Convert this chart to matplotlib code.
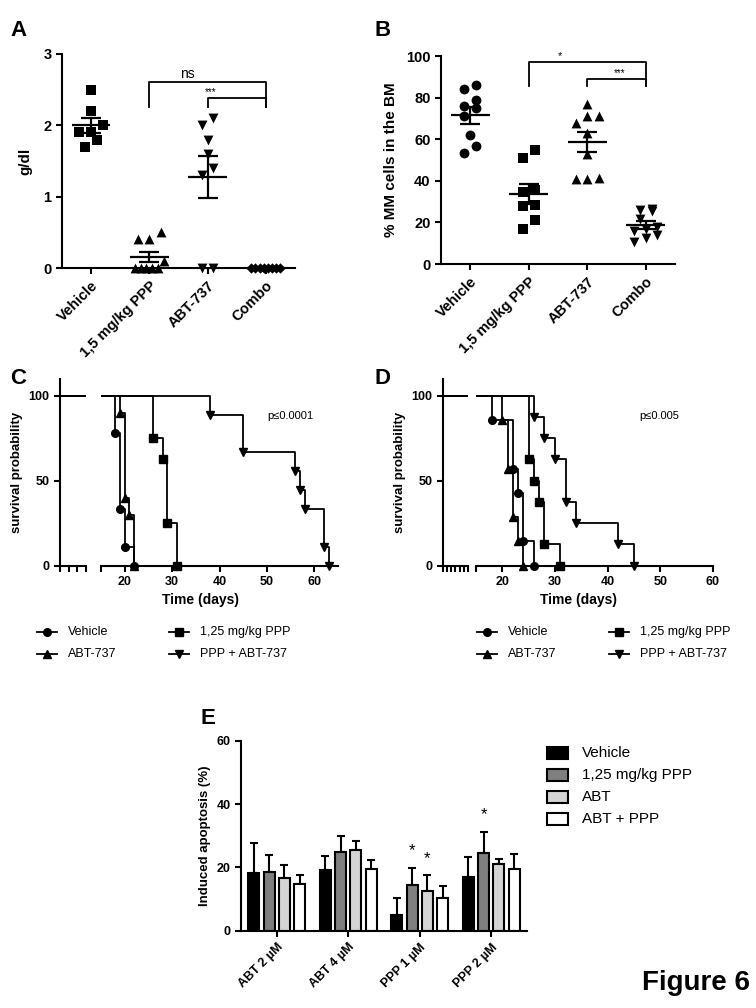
import matplotlib
matplotlib.use('Agg')
import matplotlib.pyplot as plt
import numpy as np
from matplotlib.lines import Line2D
from matplotlib.patches import Rectangle

plt.rcParams['font.family'] = ['Liberation Sans', 'DejaVu Sans']

# panel A - hemoglobin-like values (g/dl)
groups_ab = ['Vehicle', '1,5 mg/kg PPP', 'ABT-737', 'Combo']
hb_vehicle = [2.5, 2.2, 2.0, 1.9, 1.9, 1.8, 1.7]
hb_ppp = [0.5, 0.4, 0.4, 0.1, 0, 0, 0, 0, 0]
hb_abt = [2.1, 2.0, 1.8, 1.6, 1.4, 1.3, 0, 0]
hb_combo = [0, 0, 0, 0, 0, 0, 0, 0]

# panel B - % MM cells in BM
mm_vehicle = [86, 84, 79, 76, 75, 71, 62, 56.5, 53.5]
mm_ppp = [55, 51, 35.5, 34.5, 28.5, 28, 21, 17]
mm_abt = [77, 71, 71, 68, 63, 53, 41.5, 41, 41]
mm_combo = [26.5, 25.5, 26, 21.5, 18, 17, 16, 14, 12.5, 10.5]

# panel C - survival (event day, survival % after event)
c_vehicle_t = [18, 19, 20, 22]
c_vehicle_s = [77.8, 33.3, 11.1, 0]
c_abt_t = [19, 20, 21, 22]
c_abt_s = [90, 40, 30, 0]
c_ppp_t = [26, 28, 29, 31]
c_ppp_s = [75, 62.5, 25, 0]
c_combo_t = [38, 45, 56, 57, 58, 62, 63]
c_combo_s = [88.9, 66.7, 55.6, 44.4, 33.3, 11.1, 0]

# panel D
d_vehicle_t = [18, 22, 23, 24, 26]
d_vehicle_s = [85.7, 57.1, 42.9, 14.3, 0]
d_abt_t = [20, 21, 22, 23, 24]
d_abt_s = [85.7, 57.1, 28.6, 14.3, 0]
d_ppp_t = [25, 26, 27, 28, 31]
d_ppp_s = [62.5, 50, 37.5, 12.5, 0]
d_combo_t = [26, 28, 30, 32, 34, 42, 45]
d_combo_s = [87.5, 75, 62.5, 37.5, 25, 12.5, 0]

surv_names = ['Vehicle', '1,25 mg/kg PPP', 'ABT-737', 'PPP + ABT-737']

# panel E - induced apoptosis (%)
e_groups = ['ABT 2 µM', 'ABT 4 µM', 'PPP 1 µM', 'PPP 2 µM']
e_names = ['Vehicle', '1,25 mg/kg PPP', 'ABT', 'ABT + PPP']
e_vehicle = [18.1, 19.3, 4.9, 17.1]
e_vehicle_err = [9.7, 4.3, 5.5, 6.3]
e_ppp = [18.6, 24.8, 14.4, 24.4]
e_ppp_err = [5.2, 5.1, 5.5, 6.9]
e_abt = [16.5, 25.4, 12.5, 21.2]
e_abt_err = [4.4, 2.9, 5.0, 1.6]
e_combo = [14.6, 19.6, 10.4, 19.6]
e_combo_err = [3.0, 2.7, 3.7, 4.6]
e_stars = [(2, 1), (2, 2), (3, 1)]

W, H = 756, 1008
fig = plt.figure(figsize=(W / 100, H / 100), dpi=100)


def px_axes(l, t, r, b):
    return fig.add_axes([l / W, 1 - b / H, (r - l) / W, (b - t) / H])


def style(ax, size):
    for s in ['top', 'right']:
        ax.spines[s].set_visible(False)
    for s in ['left', 'bottom']:
        ax.spines[s].set_linewidth(1.5)
    ax.tick_params(width=1.5, length=4, labelsize=size)
    for lab in ax.get_xticklabels() + ax.get_yticklabels():
        lab.set_fontweight('bold')


def swarm(vals, px_unit, diam=9, step=0.2, max_spread=0.5):
    order = sorted(range(len(vals)), key=lambda i: vals[i])
    rows = []
    for i in order:
        if rows and (vals[i] - vals[rows[-1][0]]) * px_unit < diam:
            rows[-1].append(i)
        else:
            rows.append([i])
    offs = [0.0] * len(vals)
    for row in rows:
        n = len(row)
        s = step if n == 1 else min(step, max_spread / (n - 1))
        for k, i in enumerate(row):
            offs[i] = (k - (n - 1) / 2) * s
    return offs


def dot_panel(ax, data, markers, sizes, px_unit):
    for i, vals in enumerate(data):
        offs = swarm(vals, px_unit)
        ax.scatter(np.array(offs) + i, vals, marker=markers[i], s=sizes[i],
                   color='black', linewidths=0, clip_on=False, zorder=3)
        m = np.mean(vals)
        sem = np.std(vals, ddof=1) / np.sqrt(len(vals))
        ax.hlines(m, i - 0.33, i + 0.33, color='black', lw=1.6, zorder=4)
        ax.vlines(i, m - sem, m + sem, color='black', lw=1.6, zorder=4)
        ax.hlines([m - sem, m + sem], i - 0.17, i + 0.17, color='black', lw=1.6, zorder=4)
    ax.set_xlim(-0.5, 3.5)
    ax.set_xticks(range(4))
    ax.set_xticklabels(groups_ab, rotation=45, ha='right', rotation_mode='anchor')


def bracket(ax, x0, x1, ytop, ylow, txt, tx, ty, size):
    ax.plot([x0, x0, x1, x1], [ylow, ytop, ytop, ylow], color='black', lw=1.3, clip_on=False)
    ax.text(tx, ty, txt, ha='center', va='baseline', fontsize=size)


# ---- A
axA = px_axes(62, 54, 295, 268)
dot_panel(axA, [hb_vehicle, hb_ppp, hb_abt, hb_combo], ['s', '^', 'v', 'D'],
          [48, 50, 50, 28], 214 / 3)
axA.set_ylim(0, 3)
axA.set_yticks([0, 1, 2, 3])
axA.set_ylabel('g/dl', fontsize=11, fontweight='bold', labelpad=8)
style(axA, 10.5)
bracket(axA, 1, 3, 2.61, 2.26, 'ns', 1.65, 2.66, 10)
bracket(axA, 2, 3, 2.38, 2.26, '***', 2.05, 2.43, 7)

# ---- B
axB = px_axes(441, 56, 675, 264)
dot_panel(axB, [mm_vehicle, mm_ppp, mm_abt, mm_combo], ['o', 's', '^', 'v'],
          [50, 48, 50, 50], 208 / 100)
axB.set_ylim(0, 100)
axB.set_yticks([0, 20, 40, 60, 80, 100])
axB.set_ylabel('% MM cells in the BM', fontsize=11, fontweight='bold', labelpad=6)
style(axB, 10.5)
bracket(axB, 1, 3, 97.3, 85.6, '*', 1.53, 98.5, 8)
bracket(axB, 2, 3, 89, 85.6, '***', 2.56, 90.5, 7)


# ---- C / D survival
def km(ax, t, s, marker, marks):
    x = [0] + list(t)
    y = [100] + list(s)
    ax.step(x, y, where='post', color='black', lw=1.3)
    if marks:
        ax.plot(t, s, linestyle='none', marker=marker, color='black', ms=5.5, clip_on=False)


def surv_panel(l, lr, r, rr, right_max, left_ticks, series, ptxt):
    y0 = 565.7
    top = y0 - 110 * 1.7
    axl = px_axes(l, top, lr, y0)
    axr = px_axes(r, top, rr, y0)
    for tt, ss, mk in series:
        km(axl, tt, ss, mk, False)
        km(axr, tt, ss, mk, True)
    for ax in (axl, axr):
        ax.set_ylim(0, 110)
    axl.set_xlim(0, 15)
    axr.set_xlim(15, right_max)
    axl.set_yticks([0, 50, 100])
    axl.set_xticks(left_ticks)
    axl.set_xticklabels([])
    axr.set_xticks(range(20, 61, 10))
    axr.set_xticks([15], minor=True)
    axr.set_yticks([])
    style(axl, 9)
    style(axr, 9)
    axr.tick_params(which='minor', length=4, width=1.5)
    axr.spines['left'].set_visible(False)
    axl.set_ylabel('survival probability', fontsize=9.5, fontweight='bold', labelpad=4)
    axr.text(ptxt[0], ptxt[1], ptxt[2], fontsize=8, ha='left', va='center')
    return axl, axr


axCl, axCr = surv_panel(60, 86, 101, 338, 65, [0, 5, 10, 15],
                        [(c_vehicle_t, c_vehicle_s, 'o'), (c_abt_t, c_abt_s, '^'),
                         (c_ppp_t, c_ppp_s, 's'), (c_combo_t, c_combo_s, 'v')],
                        (50, 88, 'p≤0.0001'))

axDl, axDr = surv_panel(443, 468, 476, 713, 60, [0, 2.5, 5, 7.5, 10, 12.5, 15],
                        [(d_vehicle_t, d_vehicle_s, 'o'), (d_abt_t, d_abt_s, '^'),
                         (d_ppp_t, d_ppp_s, 's'), (d_combo_t, d_combo_s, 'v')],
                        (46, 88, 'p≤0.005'))

# ---- E bars
axE = px_axes(241, 740.7, 527, 930.7)
e_vals = [e_vehicle, e_ppp, e_abt, e_combo]
e_errs = [e_vehicle_err, e_ppp_err, e_abt_err, e_combo_err]
e_cols = ['#000000', '#7f7f7f', '#d4d4d4', '#ffffff']
xg = np.arange(len(e_groups))
pitch = 0.215
for j in range(4):
    xs = xg + (j - 1.5) * pitch
    axE.bar(xs, e_vals[j], width=0.155, color=e_cols[j], edgecolor='black', linewidth=1.5, zorder=2)
    axE.errorbar(xs, e_vals[j], yerr=[np.zeros(4), e_errs[j]], fmt='none', ecolor='black',
                 elinewidth=1.5, capsize=3, capthick=1.5, zorder=1)
for g, j in e_stars:
    axE.text(g + (j - 1.5) * pitch, e_vals[j][g] + e_errs[j][g] + 5.4, '*',
             ha='center', va='center', fontsize=12)
axE.set_xlim(-0.5, 3.5)
axE.set_ylim(0, 60)
axE.set_yticks([0, 20, 40, 60])
axE.set_xticks(xg)
axE.set_xticklabels(e_groups, rotation=45, ha='right', rotation_mode='anchor')
axE.set_ylabel('Induced apoptosis (%)', fontsize=9.5, fontweight='bold', labelpad=4)
style(axE, 9)

# ---- overlay: letters, legends, x labels
ov = fig.add_axes([0, 0, 1, 1])
ov.set_xlim(0, W)
ov.set_ylim(H, 0)
ov.axis('off')
ov.patch.set_alpha(0)

for lx, ly, lt in [(10, 36, 'A'), (374, 36, 'B'), (10, 384, 'C'), (374, 384, 'D'), (200, 724, 'E')]:
    ov.text(lx, ly, lt, fontsize=16, fontweight='bold', va='baseline')

ov.text(200, 600, 'Time (days)', fontsize=10, fontweight='bold', ha='center', va='center')
ov.text(578, 600, 'Time (days)', fontsize=10, fontweight='bold', ha='center', va='center')

leg_mk = ['o', 's', '^', 'v']
for shift in (0, 440):
    for k, name in enumerate(surv_names):
        cx = 47 + shift + (k % 2) * 132
        cy = 632 + (k // 2) * 22
        ov.add_line(Line2D([cx - 10, cx, cx + 10], [cy, cy, cy], color='black', lw=1.3,
                           marker=leg_mk[k], markevery=[1], ms=5.5))
        ov.text(cx + 21, cy, name, fontsize=9, va='center')

for k, name in enumerate(e_names):
    cy = 753.3 + k * 22
    ov.add_patch(Rectangle((547, cy - 6), 21, 12, facecolor=e_cols[k], edgecolor='black', lw=1.5))
    ov.text(582, cy, name, fontsize=11, va='center')

ov.text(750, 990, 'Figure 6', fontsize=20, fontweight='bold', ha='right', va='baseline')

fig.savefig('out.png', dpi=100)
